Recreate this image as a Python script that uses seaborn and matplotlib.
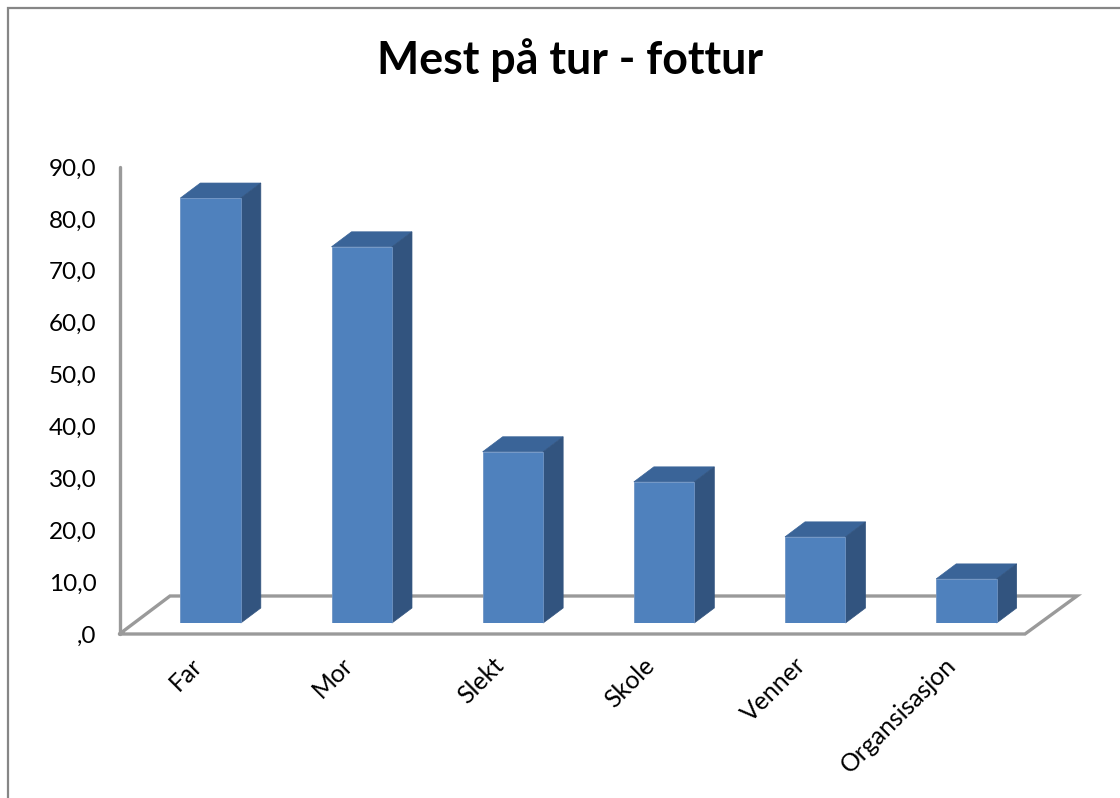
import matplotlib
matplotlib.use("Agg")
import matplotlib.pyplot as plt
import seaborn as sns
from matplotlib.patches import Polygon
from matplotlib.transforms import ScaledTranslation

# Data
categories = ["Far", "Mor", "Slekt", "Skole", "Venner", "Organsisasjon"]
values = [81.9, 72.5, 33.0, 27.2, 16.6, 8.5]
y_ticks = [0, 10, 20, 30, 40, 50, 60, 70, 80, 90]
y_labels = [",0", "10,0", "20,0", "30,0", "40,0", "50,0", "60,0", "70,0", "80,0", "90,0"]

W, H = 1120, 798
GREY = "#9a9a9a"
FRONT = "#4f81bd"
TOP = "#3a6498"
SIDE = "#32547f"
DX, DY = 20, 15  # depth of the fake 3d bars in pixels

sns.set_style("white")
plt.rcParams['font.family'] = ['Lato', 'DejaVu Sans']

fig = plt.figure(figsize=(W / 100, H / 100), dpi=100)


def box(left, top, right, bottom):
    return [left / W, 1 - bottom / H, (right - left) / W, (bottom - top) / H]


# pixel overlay for the chart frame and floor
bg = fig.add_axes([0, 0, 1, 1], zorder=0)
bg.set_xlim(0, W)
bg.set_ylim(H, 0)
bg.axis("off")
bg.plot([8, 8, W], [H, 8, 8], color="#868686", lw=1.6, solid_joinstyle="miter")
bg.plot([119.5, 170, 1077, 1025, 119.5], [634, 596, 596, 634, 634], color=GREY, lw=2.4,
        solid_joinstyle="miter")
bg.plot([119.5, 119.5], [634, 167], color=GREY, lw=2.4)

# wall axes: carries the ticks
ax = fig.add_axes(box(120, 167, 1025, 634), zorder=1)
ax.patch.set_alpha(0)
ax.set_xlim(-0.5, 5.5)
ax.set_ylim(0, 90)
ax.set_yticks(y_ticks)
ax.set_yticklabels(y_labels, fontsize=17.5, color="black")
ax.set_xticks(range(len(categories)))
ax.set_xticklabels(categories, fontsize=17.8, rotation=45, ha="right", va="top",
                   rotation_mode="anchor", color="black")
ax.tick_params(axis="y", length=0, pad=17)
ax.tick_params(axis="x", length=0, pad=14)
sns.despine(ax=ax, left=True, bottom=True)
for label in ax.get_xticklabels():
    label.set_transform(label.get_transform() + ScaledTranslation(-5 / 100, 0, fig.dpi_scale_trans))

# bars sit a bit inside the floor, so they get their own shifted axes
ax_bars = fig.add_axes(box(135, 156, 1042, 623), zorder=2)
ax_bars.patch.set_alpha(0)
sns.barplot(x=categories, y=values, ax=ax_bars, color=FRONT, saturation=1, width=0.4,
            edgecolor="#6f94c4", linewidth=0.6)
ax_bars.set_xlim(-0.5, 5.5)
ax_bars.set_ylim(0, 90)
ax_bars.axis("off")

# top and side faces follow from each bar's position
fig.canvas.draw()
to_px = ax_bars.transData + bg.transData.inverted()
for bar in ax_bars.patches:
    x0, x1 = bar.get_x(), bar.get_x() + bar.get_width()
    (l, t), (r, b) = to_px.transform([(x0, bar.get_height()), (x1, 0)])
    bg.add_patch(Polygon([(l, t), (l + DX, t - DY), (r + DX, t - DY), (r, t)],
                         facecolor=TOP, edgecolor=TOP, lw=0.5, zorder=5))
    bg.add_patch(Polygon([(r, t), (r + DX, t - DY), (r + DX, b - DY), (r, b)],
                         facecolor=SIDE, edgecolor=SIDE, lw=0.5, zorder=5))

fig.text(570 / W, 1 - 60 / H, "Mest på tur - fottur", fontsize=32.2, fontweight="bold",
         ha="center", va="center", color="black")

fig.savefig("out.png", dpi=100)
